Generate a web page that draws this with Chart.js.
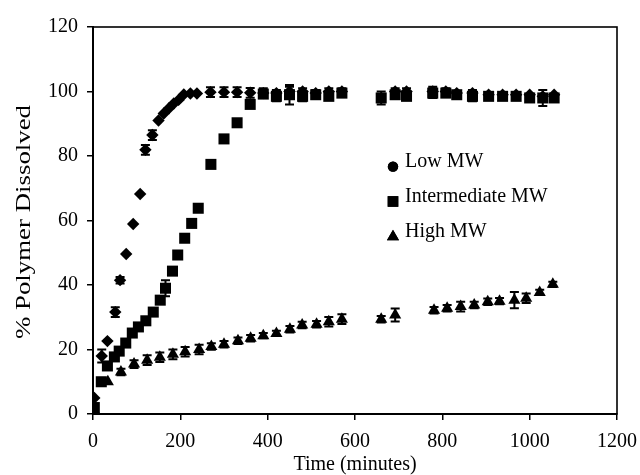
<!DOCTYPE html>
<html><head><meta charset="utf-8">
<script src="https://cdn.jsdelivr.net/npm/chart.js@4/dist/chart.umd.min.js"></script>
<style>html,body{margin:0;padding:0;background:#fff;}#wrap{width:640px;height:475px;position:relative;}</style>
</head><body><div id="wrap"><canvas id="c" width="640" height="475"></canvas></div>
<script>
// ---- data ----
const seriesLabels = ['Low MW', 'Intermediate MW', 'High MW'];
const xTicks = [0, 200, 400, 600, 800, 1000, 1200];
const yTicks = [0, 20, 40, 60, 80, 100, 120];
const xTitle = 'Time (minutes)';
const yTitle = '% Polymer Dissolved';

const lowTime  = [0, 3, 20, 33, 51, 62, 76, 92, 108, 120, 136, 150, 162, 174, 185, 196, 208, 223, 238, 269, 300, 330, 360, 390, 420, 450, 480, 510, 540, 570, 692, 718, 778, 808, 833, 869, 906, 938, 969, 1000, 1030, 1056];
const lowValue = [0, 5, 18, 22.6, 31.6, 41.5, 49.6, 58.9, 68.2, 81.9, 86.5, 91, 93.2, 94.8, 96.3, 97.4, 99.1, 99.4, 99.4, 99.8, 99.8, 99.8, 99.6, 99.5, 99.5, 100, 100, 99.5, 100, 100, 100, 100, 100, 100, 99.5, 99.5, 99, 99, 99, 99, 98.5, 99];
const lowErr   = [0, 0, 2, 0, 1.5, 1, 0, 0, 0, 1.5, 1.5, 0, 0, 0, 0, 0, 0, 0, 0, 1.5, 1.5, 1.5, 1.5, 1.5, 1, 1.5, 1, 1, 1, 1, 1, 1, 1.5, 1, 0, 1, 0, 0, 0, 0, 0, 0];

const midTime  = [0, 3, 19, 33, 49, 60, 75, 90, 104, 121, 138, 154, 166, 182, 194, 210, 226, 241, 270, 300, 330, 360, 390, 420, 450, 480, 510, 540, 570, 660, 692, 718, 778, 808, 833, 869, 906, 938, 969, 1000, 1030, 1056];
const midValue = [0, 2, 10, 14.9, 17.7, 19.5, 22, 25.1, 27, 28.9, 31.6, 35.3, 39, 44.3, 49.3, 54.5, 59.1, 63.8, 77.4, 85.3, 90.3, 96, 99.2, 98.5, 99, 98.5, 99, 98.5, 99.5, 98, 99, 98.5, 99.5, 99.5, 99, 98.5, 98.5, 98.5, 98.5, 98, 98, 98];
const midErr   = [0, 0, 1, 0, 0, 0, 0, 0, 0, 0, 0, 0, 2.5, 0, 0, 0, 0, 0, 0, 1, 1, 0, 0, 1.5, 3, 1.5, 1, 1, 1, 2, 1, 1, 1.5, 0, 0, 1.5, 1, 1, 1, 1, 2.5, 1];

const highTime  = [0, 3, 34, 64, 94, 124, 153, 183, 211, 243, 271, 300, 332, 361, 390, 420, 451, 479, 512, 540, 570, 660, 692, 781, 811, 842, 873, 904, 931, 965, 992, 1023, 1053];
const highValue = [0, 1, 10, 13, 15.5, 16.7, 17.6, 18.5, 19.3, 20, 20.9, 21.6, 22.7, 23.5, 24.3, 25, 26.3, 27.6, 27.8, 28.6, 29.4, 29.4, 30.7, 32.2, 32.8, 33.3, 33.8, 34.8, 35, 35.3, 35.9, 37.7, 40.2];
const highErr   = [0, 0, 0, 1, 1.2, 1.5, 1.5, 1.5, 1.5, 1.5, 1, 1, 1, 1, 0.8, 0.8, 1, 1, 1, 1.5, 1.5, 1, 2, 1, 1, 1.5, 1, 1, 1, 2.5, 1.5, 0.8, 0.8];

// ---- build ----
const times = [lowTime, midTime, highTime];
const values = [lowValue, midValue, highValue];
const errs = [lowErr, midErr, highErr];
const styles = [
  {pointStyle: 'rectRot', radius: 6.2, legendStyle: 'circle', legendRadius: 5.2},
  {pointStyle: 'rect', radius: 7.8, legendStyle: 'rect', legendRadius: 7.5},
  {pointStyle: 'triangle', radius: 7, legendStyle: 'triangle', legendRadius: 7}
];
const FONT = 'Liberation Serif, Times New Roman, serif';

const datasets = seriesLabels.map((lab, i) => ({
  label: lab,
  data: times[i].map((t, j) => ({x: t, y: values[i][j]})),
  pointStyle: styles[i].pointStyle,
  pointRadius: styles[i].radius,
  pointBackgroundColor: '#000',
  pointBorderColor: '#000',
  pointBorderWidth: 0,
  showLine: false
}));

const framePlugin = {
  id: 'frame',
  beforeDatasetsDraw(chart) {
    const a = chart.chartArea, ctx = chart.ctx;
    ctx.save();
    ctx.strokeStyle = '#000';
    ctx.lineWidth = 1.6;
    ctx.strokeRect(a.left, a.top, a.right - a.left, a.bottom - a.top);
    ctx.restore();
  }
};

const errPlugin = {
  id: 'errbars',
  afterDatasetsDraw(chart) {
    const ctx = chart.ctx, ys = chart.scales.y;
    ctx.save();
    ctx.strokeStyle = '#000';
    ctx.lineWidth = 2;
    chart.data.datasets.forEach((ds, i) => {
      const meta = chart.getDatasetMeta(i);
      meta.data.forEach((el, j) => {
        const e = errs[i][j];
        if (!e) return;
        const v = values[i][j];
        const y1 = ys.getPixelForValue(v + e), y2 = ys.getPixelForValue(v - e);
        ctx.beginPath();
        ctx.moveTo(el.x, y1); ctx.lineTo(el.x, y2);
        ctx.moveTo(el.x - 4.5, y1); ctx.lineTo(el.x + 4.5, y1);
        ctx.moveTo(el.x - 4.5, y2); ctx.lineTo(el.x + 4.5, y2);
        ctx.stroke();
      });
    });
    ctx.restore();
  }
};

const legendPlugin = {
  id: 'inlegend',
  afterDraw(chart) {
    const ctx = chart.ctx, xs = chart.scales.x, ys = chart.scales.y;
    const mx = xs.getPixelForValue(687);
    const rowVals = [76.7, 65.9, 55.0];
    ctx.save();
    ctx.font = '20px ' + FONT;
    ctx.textBaseline = 'middle';
    ctx.textAlign = 'left';
    seriesLabels.forEach((lab, i) => {
      const my = ys.getPixelForValue(rowVals[i]);
      ctx.fillStyle = '#000';
      ctx.strokeStyle = '#000';
      Chart.helpers.drawPoint(ctx, {pointStyle: styles[i].legendStyle, radius: styles[i].legendRadius, rotation: 0, borderWidth: 0}, mx, my);
      ctx.fill();
      ctx.fillText(lab, mx + 12, my - 5);
    });
    ctx.restore();
  }
};

// y-axis title, drawn as real text, stretched along its length like the scanned original
const yTitlePlugin = {
  id: 'ytitle',
  afterDraw(chart) {
    const ctx = chart.ctx, a = chart.chartArea;
    ctx.save();
    ctx.font = '20px ' + FONT;
    ctx.fillStyle = '#000';
    ctx.textAlign = 'center';
    ctx.textBaseline = 'middle';
    const w = ctx.measureText(yTitle).width;
    const target = 0.605 * (a.bottom - a.top);
    ctx.translate(25, a.top + 0.504 * (a.bottom - a.top));
    ctx.rotate(-Math.PI / 2);
    ctx.scale(target / w, 1);
    ctx.fillText(yTitle, 0, 0);
    ctx.restore();
  }
};

new Chart(document.getElementById('c'), {
  type: 'scatter',
  data: {datasets},
  options: {
    responsive: false,
    devicePixelRatio: 1,
    animation: false,
    layout: {padding: {left: 0, top: 27, right: 23, bottom: 0}},
    plugins: {legend: {display: false}, tooltip: {enabled: false}},
    scales: {
      x: {
        type: 'linear', min: 0, max: 1200,
        afterBuildTicks: s => { s.ticks = xTicks.map(v => ({value: v})); },
        afterFit: s => { s.height = 61; s.paddingRight = 0; s.paddingLeft = 0; },
        grid: {drawOnChartArea: false, drawTicks: true, tickLength: 6, color: '#000', lineWidth: 1.5},
        border: {display: true, color: '#000', width: 2},
        ticks: {color: '#000', font: {family: FONT, size: 20}, padding: 10, maxRotation: 0, callback: v => String(v)},
        title: {display: true, text: xTitle, color: '#000', font: {family: FONT, size: 20, lineHeight: 1.0}, padding: {top: 0, bottom: 0}}
      },
      y: {
        type: 'linear', min: 0, max: 120,
        afterBuildTicks: s => { s.ticks = yTicks.map(v => ({value: v})); },
        afterFit: s => { s.width = 93; },
        grid: {drawOnChartArea: false, drawTicks: true, tickLength: 6, color: '#000', lineWidth: 1.5},
        border: {display: true, color: '#000', width: 2},
        ticks: {color: '#000', font: {family: FONT, size: 20}, padding: 9, callback: v => String(v)},
        title: {display: false}
      }
    }
  },
  plugins: [framePlugin, errPlugin, legendPlugin, yTitlePlugin]
});
</script></body></html>
